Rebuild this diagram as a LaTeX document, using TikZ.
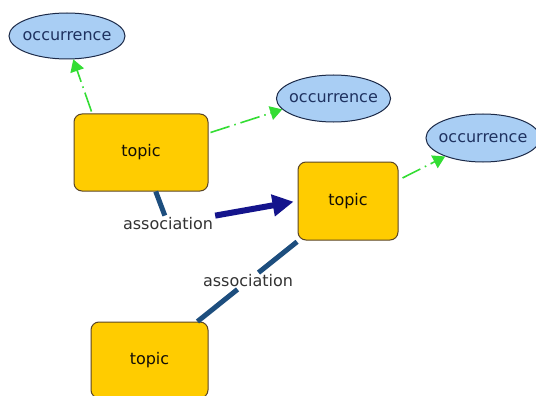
\documentclass[tikz,border=0pt]{standalone}
\usepackage{fontspec}
\setmainfont{DejaVu Sans}
\usetikzlibrary{arrows.meta,shapes.geometric,calc}
\definecolor{topicfill}{HTML}{FFCC00}
\definecolor{topicedge}{HTML}{5A4526}
\definecolor{occfill}{HTML}{A9CEF4}
\definecolor{occedge}{HTML}{1C2A48}
\definecolor{occtext}{HTML}{1F3260}
\definecolor{linkgreen}{HTML}{33DD33}
\definecolor{assocsteel}{HTML}{1D4E7E}
\definecolor{assocnavy}{HTML}{14148C}
\definecolor{labelgray}{HTML}{333333}

\begin{document}
\begin{tikzpicture}[x=1pt, y=-1pt,
  every node/.style={font=\fontsize{16}{19}\selectfont},
  topicbox/.style={draw=topicedge, fill=topicfill, line width=1pt, rounded corners=8pt, text=black!80!topicedge},
  occnode/.style={ellipse, draw=occedge, fill=occfill, line width=1pt, text=occtext, inner xsep=-4pt, inner ysep=5pt},
  assoclabel/.style={text=labelgray, inner sep=2pt},
  occlink/.style={draw=linkgreen, line width=1.6pt, dash pattern=on 20pt off 5pt on 1.5pt off 5pt, -{Triangle[width=14pt,length=12pt]}},
  assocline/.style={draw=assocsteel, line width=5pt}]
\useasboundingbox (0,0) rectangle (536,396);
\clip (0,0) rectangle (536,396);
\fill [white] (0,0) rectangle (536,396);

\node [occnode, minimum width=116pt, minimum height=46pt] (occ1) at (67,36) {occurrence};
\node [occnode, minimum width=113pt, minimum height=47pt] (occ2) at (333.5,98.5) {occurrence};
\node [occnode, minimum width=108pt, minimum height=48pt] (occ3) at (483,138) {occurrence};

\node [topicbox, minimum width=134pt, minimum height=77pt] (topic1) at (141,152.5) {topic};
\node [topicbox, minimum width=100pt, minimum height=78pt] (topic2) at (348,201) {topic};
\node [topicbox, minimum width=117pt, minimum height=76pt] (topic3) at (149.5,360) {topic};

\node [assoclabel] (assoc1) at (168,224) {association};
\node [assoclabel] (assoc2) at (248,281) {association};

\draw [occlink] ($(topic1.north west)+(18,-2)$) -- (occ1.-75);
\draw [occlink] ($(topic1.east)+(2,-20)$) -- (occ2.192);
\draw [occlink] ($(topic2.east)+(4,-23)$) -- (occ3.206);

\draw [assocline] (topic1) -- (assoc1);
\draw [assocnavy, line width=6pt, shorten >=4pt, -{Triangle[width=21pt,length=21pt]}] (assoc1) -- (topic2.west);
\draw [assocline, shorten <=2pt] (topic2) -- (assoc2);
\draw [assocline] (assoc2) -- (topic3);
\end{tikzpicture}
\end{document}
